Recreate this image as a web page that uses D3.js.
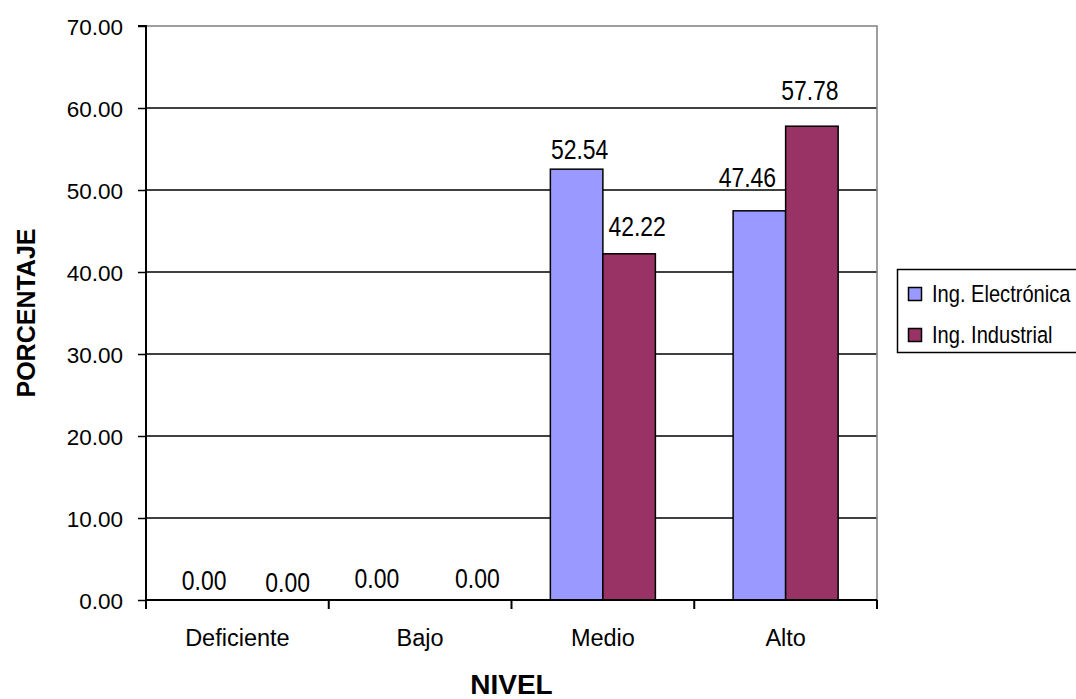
<!DOCTYPE html>
<html>
<head>
<meta charset="utf-8">
<script src="https://cdn.jsdelivr.net/npm/d3@7"></script>
<style>
  html, body { margin: 0; padding: 0; background: #fff; }
  svg { display: block; }
</style>
</head>
<body>
<svg id="chart" width="1076" height="699"></svg>
<script>
// ---- data ----
const categories = ["Deficiente", "Bajo", "Medio", "Alto"];
const seriesNames = ["Ing. Electrónica", "Ing. Industrial"];
const electronica = [0.00, 0.00, 52.54, 47.46];
const industrial = [0.00, 0.00, 42.22, 57.78];
const yTicks = [0, 10, 20, 30, 40, 50, 60, 70];
const colors = ["#9999FF", "#993366"];
// manual label nudges (px), as placed in the original
const labelDx = [[-7, -17, 3, -12], [24, 31, 8, -2]];
const labelDy = [[0, -2, 0, -14], [2, -2, -8, -16]];

const seriesValues = [electronica, industrial];

const svg = d3.select("#chart");
const plot = { left: 146, right: 877, top: 26, bottom: 600 };
const font = "'Liberation Sans', Arial, sans-serif";
const narrow = 0.82; // Arial Narrow width relative to Arial

const x0 = d3.scaleBand().domain(categories).range([plot.left, plot.right]).padding(0);
const x1 = d3.scaleBand().domain(seriesNames).range([0, x0.bandwidth()]).paddingInner(0).paddingOuter(0.74);
const y = d3.scaleLinear().domain([0, 70]).range([plot.bottom, plot.top]);

// gridlines
svg.append("g").selectAll("line").data(yTicks.filter(t => t > 0 && t < 70)).join("line")
  .attr("x1", plot.left).attr("x2", plot.right)
  .attr("y1", d => y(d)).attr("y2", d => y(d))
  .attr("stroke", "#000").attr("stroke-width", 1.5);

// plot border top/right (grey)
svg.append("path")
  .attr("d", `M${plot.left},${y(70)}H${plot.right}V${plot.bottom}`)
  .attr("fill", "none").attr("stroke", "#808080").attr("stroke-width", 1.5);

// bars
const groups = svg.append("g").selectAll("g").data(seriesNames).join("g")
  .attr("fill", (d, i) => colors[i]);
groups.each(function (s, si) {
  d3.select(this).selectAll("rect").data(categories).join("rect")
    .attr("x", c => x0(c) + x1(s))
    .attr("width", x1.bandwidth())
    .attr("y", (c, ci) => y(seriesValues[si][ci]))
    .attr("height", (c, ci) => y(0) - y(seriesValues[si][ci]))
    .attr("stroke", "#000").attr("stroke-width", 1.5)
    .attr("display", (c, ci) => seriesValues[si][ci] > 0 ? null : "none");
});

// y axis
const yAxis = d3.axisLeft(y).tickValues(yTicks).tickFormat(d3.format(".2f")).tickSize(8).tickPadding(15);
const gy = svg.append("g").attr("transform", `translate(${plot.left},0)`).call(yAxis);
gy.select(".domain").attr("stroke", "#000").attr("stroke-width", 2).attr("d", `M-8,${y(70)}H0V${y(0)}`);
gy.selectAll(".tick line").attr("stroke", "#000").attr("stroke-width", 1.5);
gy.selectAll(".tick text").attr("font-family", font)
  .attr("font-size", 22.5).attr("fill", "#000").attr("dy", "0.36em");

// x axis
const xAxis = d3.axisBottom(x0).tickSize(0).tickPadding(0);
const gx = svg.append("g").attr("transform", `translate(0,${plot.bottom})`).call(xAxis);
gx.select(".domain").attr("stroke", "#000").attr("stroke-width", 2).attr("d", `M${plot.left},0H${plot.right}`);
gx.selectAll(".tick text").attr("font-family", font)
  .attr("font-size", 23.5).attr("fill", "#000").attr("y", 46).attr("dy", 0);
// category boundary ticks
svg.append("g").selectAll("line").data(d3.range(categories.length + 1)).join("line")
  .attr("x1", i => plot.left + i * x0.step()).attr("x2", i => plot.left + i * x0.step())
  .attr("y1", plot.bottom).attr("y2", plot.bottom + 9)
  .attr("stroke", "#000").attr("stroke-width", 2);

// data labels (narrow style)
seriesNames.forEach((s, si) => {
  svg.append("g").selectAll("text").data(categories).join("text")
    .attr("transform", (c, ci) => {
      const lx = x0(c) + x1(s) + x1.bandwidth() / 2 + labelDx[si][ci];
      const ly = y(seriesValues[si][ci]) - 10 + labelDy[si][ci];
      return `translate(${lx},${ly}) scale(${narrow},1)`;
    })
    .attr("text-anchor", "middle")
    .attr("font-family", font).attr("font-size", 28).attr("fill", "#000")
    .text((c, ci) => d3.format(".2f")(seriesValues[si][ci]));
});

// axis titles
svg.append("text")
  .attr("x", (plot.left + plot.right) / 2).attr("y", 694)
  .attr("text-anchor", "middle").attr("font-family", font)
  .attr("font-weight", "bold").attr("font-size", 28).text("NIVEL");
svg.append("text")
  .attr("transform", `translate(35,${(plot.top + plot.bottom) / 2}) rotate(-90)`)
  .attr("text-anchor", "middle").attr("font-family", font)
  .attr("font-weight", "bold").attr("font-size", 25).text("PORCENTAJE");

// legend
const legend = svg.append("g");
legend.append("rect").attr("x", 897.5).attr("y", 269.5).attr("width", 190).attr("height", 83)
  .attr("fill", "#fff").attr("stroke", "#000").attr("stroke-width", 1.5);
const li = legend.selectAll("g").data(seriesNames).join("g")
  .attr("transform", (d, i) => `translate(0,${i * 41})`);
li.append("rect").attr("x", 908.5).attr("y", 287.5).attr("width", 13).attr("height", 13)
  .attr("fill", (d, i) => colors[i]).attr("stroke", "#000").attr("stroke-width", 1.5);
li.append("text").attr("transform", `translate(932,301.5) scale(${narrow},1)`)
  .attr("font-family", font).attr("font-size", 24.5).attr("fill", "#000")
  .text(d => d);
</script>
</body>
</html>
